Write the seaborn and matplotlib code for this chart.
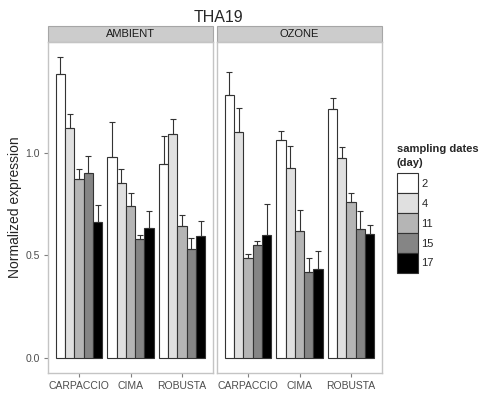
import numpy as np
import pandas as pd
import matplotlib
matplotlib.use('Agg')
import matplotlib.pyplot as plt
import seaborn as sns
from matplotlib.patches import Rectangle

# Data
treatments = ['AMBIENT', 'OZONE']
cultivars = ['CARPACCIO', 'CIMA', 'ROBUSTA']
days = ['2', '4', '11', '15', '17']

# rows = cultivar, columns = sampling day
ambient_mean = [[1.384, 1.119, 0.870, 0.902, 0.663],
                [0.980, 0.854, 0.740, 0.580, 0.631],
                [0.945, 1.090, 0.642, 0.530, 0.594]]
ambient_se = [[0.081, 0.070, 0.050, 0.083, 0.083],
              [0.171, 0.065, 0.062, 0.017, 0.086],
              [0.136, 0.076, 0.053, 0.054, 0.073]]
ozone_mean = [[1.281, 1.102, 0.488, 0.548, 0.597],
              [1.062, 0.924, 0.617, 0.417, 0.433],
              [1.213, 0.976, 0.761, 0.626, 0.603]]
ozone_se = [[0.114, 0.115, 0.018, 0.023, 0.153],
            [0.045, 0.109, 0.102, 0.069, 0.087],
            [0.055, 0.052, 0.041, 0.090, 0.043]]

day_colors = ['#ffffff', '#e0e0e0', '#b5b5b5', '#858585', '#000000']

rows = []
for trt, means, ses in [('AMBIENT', ambient_mean, ambient_se),
                        ('OZONE', ozone_mean, ozone_se)]:
    for i, cv in enumerate(cultivars):
        for j, d in enumerate(days):
            rows.append({'treatment': trt, 'cultivar': cv, 'day': d,
                         'expr': means[i][j], 'se': ses[i][j]})
df = pd.DataFrame(rows)

sns.set_theme(style='white')
plt.rcParams['font.family'] = ['Liberation Sans', 'DejaVu Sans']

fig = plt.figure(figsize=(4.81, 3.97), dpi=100)
panel_w = 165 / 481
panel_h = 331 / 397
bottom = 24 / 397
lefts = [48 / 481, 217 / 481]

edge = '#333333'
for k, trt in enumerate(treatments):
    ax = fig.add_axes([lefts[k], bottom, panel_w, panel_h])
    sub = df[df['treatment'] == trt]
    sns.barplot(data=sub, x='cultivar', y='expr', hue='day',
                order=cultivars, hue_order=days, palette=day_colors,
                width=0.9, edgecolor=edge, linewidth=0.8, errorbar=None,
                legend=(k == 1), ax=ax)

    # upward-only error bars
    for d, cont in zip(days, ax.containers):
        xs, ys, es = [], [], []
        for cv, bar in zip(cultivars, cont):
            row = sub[(sub['cultivar'] == cv) & (sub['day'] == d)].iloc[0]
            xs.append(bar.get_x() + bar.get_width() / 2)
            ys.append(bar.get_height())
            es.append(row['se'])
        ax.errorbar(xs, ys, yerr=[np.zeros(len(es)), es], fmt='none',
                    ecolor=edge, elinewidth=0.8, capsize=2.2, capthick=0.8)

    ax.set_xlim(-0.6, 2.6)
    ax.set_ylim(-0.075, 1.54)
    ax.set_xlabel('')
    for sp in ax.spines.values():
        sp.set_color('#c4c4c4')
        sp.set_linewidth(1.0)
    ax.tick_params(axis='x', bottom=True, length=3, width=0.8, color='#7f7f7f',
                   labelsize=7.5, labelcolor='#4d4d4d', pad=3)
    if k == 0:
        ax.set_yticks([0, 0.5, 1.0])
        ax.set_yticklabels(['0.0', '0.5', '1.0'])
        ax.tick_params(axis='y', left=True, length=3, width=0.8, color='#7f7f7f',
                       labelsize=7.5, labelcolor='#4d4d4d', pad=3)
        ax.set_ylabel('Normalized expression', fontsize=10, labelpad=2)
    else:
        ax.set_yticks([])
        ax.set_ylabel('')
        leg = ax.get_legend()
        handles = leg.legend_handles
        leg.remove()
        lg = fig.legend(handles, days, loc='upper left',
                        bbox_to_anchor=(397 / 481, 1 - 144 / 397),
                        title='sampling dates\n(day)', alignment='left',
                        title_fontproperties={'weight': 'bold', 'size': 8},
                        fontsize=8, frameon=False, handlelength=1.9,
                        handleheight=2.39, labelspacing=0, handletextpad=0.3,
                        borderpad=0, borderaxespad=0)
        lg.get_title().set_linespacing(1.45)
        lg._legend_box.sep = 4

    # facet strip
    strip_h = 16 / 331
    ax.add_patch(Rectangle((0, 1.0), 1, strip_h, transform=ax.transAxes,
                           facecolor='#cccccc', edgecolor='#a6a6a6',
                           linewidth=0.8, clip_on=False))
    ax.text(0.5, 1.0 + strip_h / 2, trt, transform=ax.transAxes,
            ha='center', va='center', fontsize=8, color='#1a1a1a')

fig.text(218 / 481, 1 - 18 / 397, 'THA19', ha='center', va='center',
         fontsize=11.5)

fig.savefig('out.png', dpi=100)
